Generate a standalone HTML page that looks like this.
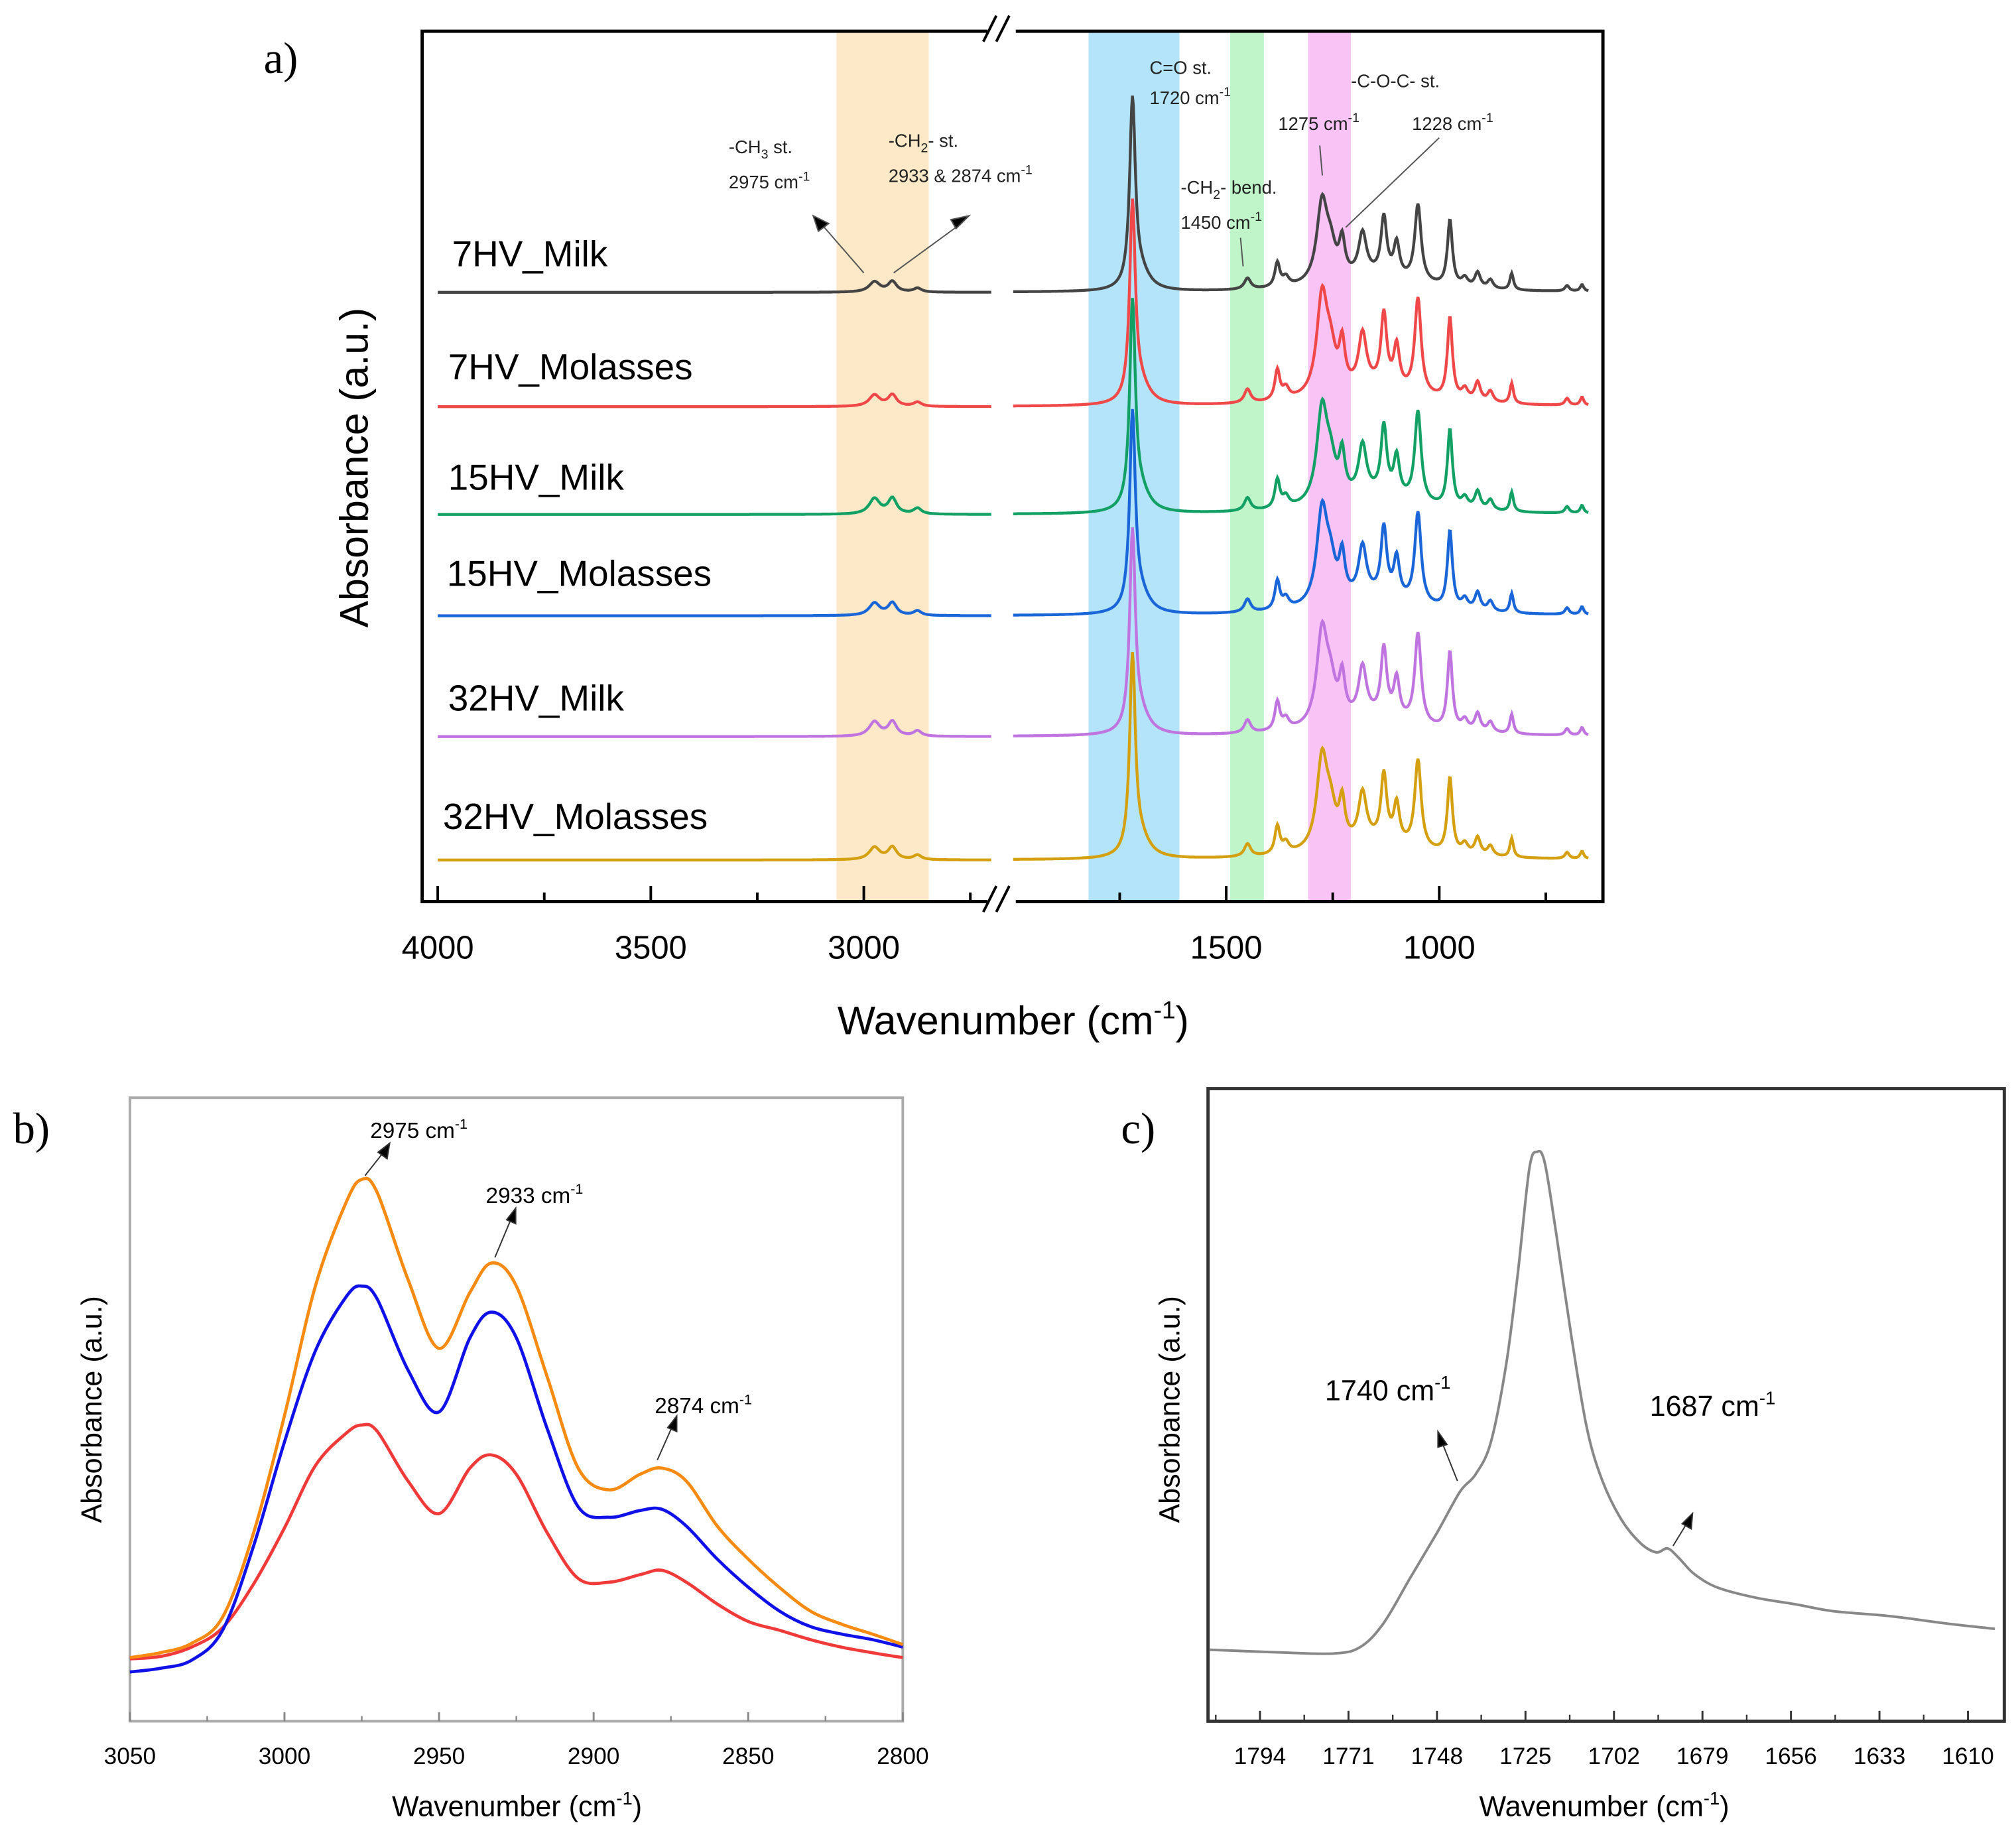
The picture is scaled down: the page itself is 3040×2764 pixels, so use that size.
<!DOCTYPE html>
<html><head><meta charset="utf-8"><style>
html,body{margin:0;padding:0;background:#fff}
svg{display:block}
text{font-family:"Liberation Sans",sans-serif}
.serif{font-family:"Liberation Serif",serif}
</style></head><body>
<svg id="fig" width="3040" height="2764" viewBox="0 0 1552 1411" xmlns="http://www.w3.org/2000/svg">
<rect x="0" y="0" width="1552" height="1411" fill="#fff"/>
<!-- Panel a -->
<g id="pa">
<text x="203" y="56" class="serif" font-size="34">a)</text>
<rect x="644" y="24" width="71" height="670" fill="#fde9c8"/>
<rect x="838" y="24" width="70" height="670" fill="#b4e4fa"/>
<rect x="947" y="24" width="26" height="670" fill="#bff5c8"/>
<rect x="1007" y="24" width="33" height="670" fill="#f9c3f6"/>
<g id="aSeries"></g>
<rect x="325" y="24" width="909" height="670" fill="none" stroke="#000" stroke-width="2.5"/>
<rect x="760" y="14" width="22" height="20" fill="#fff"/>
<rect x="760" y="684" width="22" height="20" fill="#fff"/>
<path d="M757 32 L767 12 M767 32 L777 12 M757 702 L767 682 M767 702 L777 682" stroke="#000" stroke-width="2"/>
<g id="aTicks"></g>
<text x="780" y="796" font-size="31" text-anchor="middle">Wavenumber (cm<tspan dy="-12" font-size="19">-1</tspan><tspan dy="12">)</tspan></text>
<text transform="translate(283,360) rotate(-90)" font-size="31" text-anchor="middle">Absorbance (a.u.)</text>
<g font-size="28">
<text x="348" y="205">7HV_Milk</text>
<text x="345" y="292">7HV_Molasses</text>
<text x="345" y="377">15HV_Milk</text>
<text x="344" y="451">15HV_Molasses</text>
<text x="345" y="547">32HV_Milk</text>
<text x="341" y="638">32HV_Molasses</text>
</g>
<g font-size="14" fill="#222">
<text x="561" y="118">-CH<tspan dy="4" font-size="10">3</tspan><tspan dy="-4"> st.</tspan></text>
<text x="561" y="145">2975 cm<tspan dy="-6" font-size="10">-1</tspan></text>
<text x="684" y="113">-CH<tspan dy="4" font-size="10">2</tspan><tspan dy="-4">- st.</tspan></text>
<text x="684" y="140">2933 &amp; 2874 cm<tspan dy="-6" font-size="10">-1</tspan></text>
<text x="885" y="57">C=O st.</text>
<text x="885" y="80">1720 cm<tspan dy="-6" font-size="10">-1</tspan></text>
<text x="909" y="149">-CH<tspan dy="4" font-size="10">2</tspan><tspan dy="-4">- bend.</tspan></text>
<text x="909" y="176">1450 cm<tspan dy="-6" font-size="10">-1</tspan></text>
<text x="1040" y="67">-C-O-C- st.</text>
<text x="984" y="100">1275 cm<tspan dy="-6" font-size="10">-1</tspan></text>
<text x="1087" y="100">1228 cm<tspan dy="-6" font-size="10">-1</tspan></text>
</g>
<g stroke="#555" stroke-width="1" fill="#000">
<line x1="665" y1="210" x2="632" y2="172"/><polygon points="626,166 638,172 630,178"/>
<line x1="688" y1="210" x2="740" y2="172"/><polygon points="746,166 736,176 732,169"/>
<line x1="957" y1="205" x2="955" y2="183" fill="none"/>
<line x1="1018" y1="135" x2="1016" y2="112" fill="none"/>
<line x1="1036" y1="175" x2="1108" y2="106" fill="none"/>
</g>
</g>
<!-- Panel b -->
<g id="pb">
<text x="10" y="880" class="serif" font-size="34">b)</text>
<rect x="100" y="845" width="595" height="480" fill="none" stroke="#aaa" stroke-width="2"/>
<g id="bSeries"></g>
<g id="bTicks"></g>
<text x="398" y="1398" font-size="22" text-anchor="middle">Wavenumber (cm<tspan dy="-9" font-size="14">-1</tspan><tspan dy="9">)</tspan></text>
<text transform="translate(78,1085) rotate(-90)" font-size="22" text-anchor="middle">Absorbance (a.u.)</text>
<g font-size="17">
<text x="285" y="876">2975 cm<tspan dy="-7" font-size="11">-1</tspan></text>
<text x="374" y="926">2933 cm<tspan dy="-7" font-size="11">-1</tspan></text>
<text x="504" y="1088">2874 cm<tspan dy="-7" font-size="11">-1</tspan></text>
</g>
<g stroke="#333" stroke-width="1" fill="#000">
<line x1="281" y1="905" x2="296" y2="886"/><polygon points="300,880 298,892 291,887"/>
<line x1="381" y1="968" x2="394" y2="937"/><polygon points="397,930 397,942 390,939"/>
<line x1="506" y1="1124" x2="518" y2="1097"/><polygon points="521,1090 521,1102 514,1099"/>
</g>
</g>
<!-- Panel c -->
<g id="pc">
<text x="863" y="880" class="serif" font-size="34">c)</text>
<rect x="930" y="838" width="613" height="487" fill="none" stroke="#333" stroke-width="2.5"/>
<g id="cSeries"></g>
<g id="cTicks"></g>
<text x="1235" y="1398" font-size="22" text-anchor="middle">Wavenumber (cm<tspan dy="-9" font-size="14">-1</tspan><tspan dy="9">)</tspan></text>
<text transform="translate(908,1085) rotate(-90)" font-size="22" text-anchor="middle">Absorbance (a.u.)</text>
<g font-size="22">
<text x="1020" y="1078">1740 cm<tspan dy="-9" font-size="14">-1</tspan></text>
<text x="1270" y="1090">1687 cm<tspan dy="-9" font-size="14">-1</tspan></text>
</g>
<g stroke="#333" stroke-width="1" fill="#000">
<line x1="1122" y1="1140" x2="1110" y2="1110"/><polygon points="1107,1102 1114,1112 1107,1114"/>
<line x1="1288" y1="1190" x2="1299" y2="1172"/><polygon points="1303,1165 1302,1177 1295,1173"/>
</g>
</g>
</svg>
<script>
const NS="http://www.w3.org/2000/svg";
// ---------- Panel a data ----------
const aSeriesNames=["7HV_Milk","7HV_Molasses","15HV_Milk","15HV_Molasses","32HV_Milk","32HV_Molasses"];
const aColors=["#444444","#f04848","#12a064","#1a66d8","#c074e0","#d4a010"];
const aBaselines=[0,-88,-171,-249,-342,-437];
const aCarbonylHeights=[159,168,175,167,169,168];
const aFingerprintScale=[0.85,1.05,1.0,1.0,1.0,0.97];
const aChScale=[1.0,1.1,1.5,1.2,1.4,1.2];
const peakCenters=[1720,1700,1450,1380,1360,1275,1255,1228,1180,1130,1100,1050,975,940,910,880,830,700,665,1150];
const peakHeights=[1.0,0.08,10,22,8,72,25,32,38,52,30,70,60,8,14,8,15,5,6,14];
const peakWidths=[8,25,9,7,9,15,14,8,11,8,8,9,7,9,8,8,5,6,5,110];
const chCenters=[2975,2933,2874];
const chHeights=[8,8,3];
const chWidths=[15,12,11];
const aXTicks=[4000,3500,3000,1500,1000];

const aBase0=225;
function axL(w){return 337+(4000-w)*0.328;}
function axR(w){return 944+(1500-w)*0.328;}
function ay(v,i){return aBase0-aBaselines[i]-v;}
function lor(w,c,h,g){return h*g*g/((w-c)*(w-c)+g*g);}
const gA=document.getElementById('aSeries');
aSeriesNames.forEach((nm,i)=>{
  let dL="",dR="";
  for(let w=4000;w>=2700;w-=3){
    let v=0;chCenters.forEach((c,k)=>{v+=lor(w,c,chHeights[k]*aChScale[i],chWidths[k]);});
    dL+=(dL?"L":"M")+axL(w).toFixed(1)+" "+ay(v,i).toFixed(1);
  }
  for(let w=2000;w>=650;w-=2){
    let v=0;
    peakCenters.forEach((c,k)=>{
      let h=peakHeights[k];
      if(k===0) h=aCarbonylHeights[i]*0.9;
      else if(k===1) h=aCarbonylHeights[i]*0.08;
      else h=h*aFingerprintScale[i];
      v+=lor(w,c,h,peakWidths[k]);
    });
    dR+=(dR?"L":"M")+axR(w).toFixed(1)+" "+ay(v,i).toFixed(1);
  }
  const p=document.createElementNS(NS,'path');
  p.setAttribute('d',dL+" "+dR);
  p.setAttribute('fill','none');p.setAttribute('stroke',aColors[i]);p.setAttribute('stroke-width','2.2');
  
  
  gA.appendChild(p);
});
const tA=document.getElementById('aTicks');
function addLine(g,x1,y1,x2,y2,name,stroke,sw){const l=document.createElementNS(NS,'line');l.setAttribute('x1',x1);l.setAttribute('y1',y1);l.setAttribute('x2',x2);l.setAttribute('y2',y2);l.setAttribute('stroke',stroke||'#000');l.setAttribute('stroke-width',sw||2);


g.appendChild(l);}
function addText(g,x,y,s,fs,name){const t=document.createElementNS(NS,'text');t.setAttribute('x',x);t.setAttribute('y',y);t.setAttribute('font-size',fs);t.setAttribute('text-anchor','middle');t.textContent=s;


g.appendChild(t);}
aXTicks.forEach(w=>{const x=w>2500?axL(w):axR(w);addLine(tA,x,694,x,682,'x-tick-'+w);addText(tA,x,738,String(w),25,'x-tick-label-'+w);});
[3750,3250,2750,1750,1250,750].forEach(w=>{const x=w>2500?axL(w):axR(w);addLine(tA,x,694,x,687,'x-minor-tick-'+w);});

// ---------- Panel b data ----------
const bWavenumbers=[3050,3040,3030,3020,3010,3000,2990,2980,2975,2970,2960,2950,2940,2933,2925,2915,2905,2895,2885,2878,2870,2860,2850,2840,2830,2820,2810,2800];
const bOrange=[0.102,0.110,0.125,0.167,0.302,0.490,0.698,0.833,0.869,0.848,0.708,0.598,0.688,0.735,0.698,0.552,0.406,0.371,0.396,0.406,0.385,0.313,0.260,0.215,0.177,0.156,0.140,0.123];
const bBlue=[0.079,0.085,0.098,0.146,0.281,0.448,0.594,0.681,0.698,0.677,0.563,0.496,0.615,0.656,0.615,0.469,0.344,0.327,0.338,0.340,0.313,0.260,0.215,0.177,0.152,0.140,0.131,0.119];
const bRed=[0.100,0.104,0.119,0.150,0.220,0.310,0.410,0.462,0.475,0.465,0.385,0.333,0.406,0.427,0.396,0.302,0.229,0.223,0.235,0.242,0.223,0.188,0.160,0.146,0.131,0.119,0.110,0.102];
const bTicks=[3050,3000,2950,2900,2850,2800];
function bx(w){return 100+(3050-w)*2.38;}
function by(v){return 1325-v*480;}
function smooth(pts){let d="M"+pts[0][0].toFixed(1)+" "+pts[0][1].toFixed(1);
 for(let i=0;i<pts.length-1;i++){const p0=pts[i-1]||pts[i],p1=pts[i],p2=pts[i+1],p3=pts[i+2]||p2;
 const c1=[p1[0]+(p2[0]-p0[0])/6,p1[1]+(p2[1]-p0[1])/6],c2=[p2[0]-(p3[0]-p1[0])/6,p2[1]-(p3[1]-p1[1])/6];
 d+="C"+c1[0].toFixed(1)+" "+c1[1].toFixed(1)+" "+c2[0].toFixed(1)+" "+c2[1].toFixed(1)+" "+p2[0].toFixed(1)+" "+p2[1].toFixed(1);}
 return d;}
const gB=document.getElementById('bSeries');
[[bRed,"#f03a3a","red"],[bBlue,"#1010e8","blue"],[bOrange,"#f78a10","orange"]].forEach(([arr,col,nm])=>{
  const p=document.createElementNS(NS,'path');
  p.setAttribute('d',smooth(bWavenumbers.map((w,k)=>[bx(w),by(arr[k])])));
  p.setAttribute('fill','none');p.setAttribute('stroke',col);p.setAttribute('stroke-width','2.4');
  
  
  gB.appendChild(p);
});
const tB=document.getElementById('bTicks');
bTicks.forEach(w=>{addLine(tB,bx(w),1325,bx(w),1318,'b-x-tick-'+w,'#888',1.5);addText(tB,bx(w),1358,String(w),18,'b-x-tick-label-'+w);});
[3025,2975,2925,2875,2825].forEach(w=>addLine(tB,bx(w),1325,bx(w),1321,'b-x-minor-tick-'+w,'#888',1.2));

// ---------- Panel c data ----------
const cWavenumbers=[1807,1790,1775,1768,1762,1755,1748,1742,1738,1734,1730,1727,1724,1722,1720,1717,1713,1709,1705,1700,1695,1691,1688,1685,1681,1675,1665,1655,1645,1630,1615,1603];
const cValues=[0.113,0.109,0.107,0.117,0.154,0.226,0.298,0.363,0.390,0.441,0.565,0.708,0.873,0.900,0.883,0.770,0.606,0.462,0.380,0.318,0.281,0.267,0.273,0.257,0.232,0.211,0.195,0.185,0.174,0.166,0.154,0.146];
const cTicks=[1794,1771,1748,1725,1702,1679,1656,1633,1610];
function cx(w){return 970+(1794-w)*2.962;}
function cy(v){return 1325-v*487;}
const gC=document.getElementById('cSeries');
const pc=document.createElementNS(NS,'path');
pc.setAttribute('d',smooth(cWavenumbers.map((w,k)=>[cx(w),cy(cValues[k])])));
pc.setAttribute('fill','none');pc.setAttribute('stroke','#888');pc.setAttribute('stroke-width','2');


gC.appendChild(pc);
const tC=document.getElementById('cTicks');
cTicks.forEach(w=>{addLine(tC,cx(w),1325,cx(w),1317,'c-x-tick-'+w,'#333',1.5);addText(tC,cx(w),1358,String(w),18,'c-x-tick-label-'+w);});
cTicks.slice(0,-1).forEach(w=>addLine(tC,cx(w-11.5),1325,cx(w-11.5),1320,'c-x-minor-tick-'+w,'#333',1.2));
addLine(tC,cx(1805.5),1325,cx(1805.5),1320,'c-x-minor-tick-first','#333',1.2);
</script>
</body></html>
